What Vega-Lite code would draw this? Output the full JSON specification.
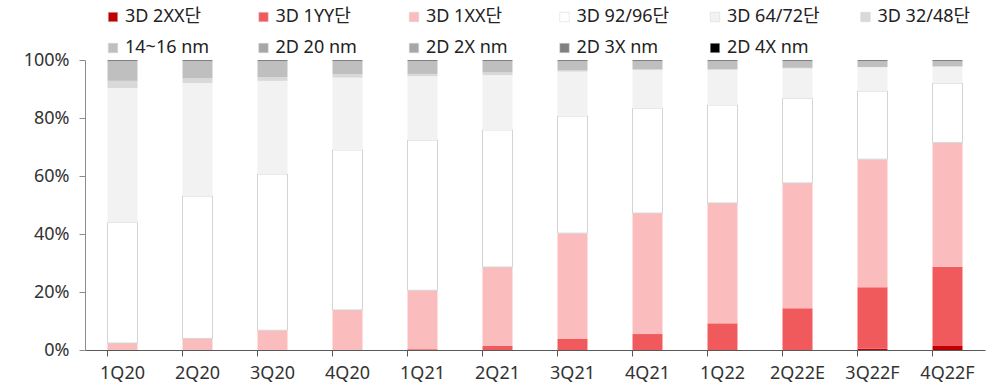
{
  "$schema": "https://vega.github.io/schema/vega-lite/v6.json",
  "autosize": "none",
  "width": 900,
  "height": 290,
  "padding": {"left": 85, "top": 60, "right": 20, "bottom": 37},
  "background": "white",
  "config": {
    "view": {"stroke": null},
    "font": "Noto Sans",
    "axis": {"labelFont": "Noto Sans", "labelFontSize": 18, "labelColor": "#333333", "grid": false, "title": null}
  },
  "data": {
    "values": [
      {"q": "1Q20", "s": "3D 1XX단", "v": 2.4},
      {"q": "1Q20", "s": "3D 92/96단", "v": 41.6},
      {"q": "1Q20", "s": "3D 64/72단", "v": 46.3},
      {"q": "1Q20", "s": "3D 32/48단", "v": 2.5},
      {"q": "1Q20", "s": "14~16 nm", "v": 6.8},
      {"q": "1Q20", "s": "2D 3X nm", "v": 0.4},

      {"q": "2Q20", "s": "3D 1XX단", "v": 4.0},
      {"q": "2Q20", "s": "3D 92/96단", "v": 49.1},
      {"q": "2Q20", "s": "3D 64/72단", "v": 38.9},
      {"q": "2Q20", "s": "3D 32/48단", "v": 1.7},
      {"q": "2Q20", "s": "14~16 nm", "v": 5.9},
      {"q": "2Q20", "s": "2D 3X nm", "v": 0.4},

      {"q": "3Q20", "s": "3D 1XX단", "v": 6.8},
      {"q": "3Q20", "s": "3D 92/96단", "v": 53.9},
      {"q": "3Q20", "s": "3D 64/72단", "v": 32.1},
      {"q": "3Q20", "s": "3D 32/48단", "v": 1.3},
      {"q": "3Q20", "s": "14~16 nm", "v": 5.5},
      {"q": "3Q20", "s": "2D 3X nm", "v": 0.4},

      {"q": "4Q20", "s": "3D 1XX단", "v": 13.8},
      {"q": "4Q20", "s": "3D 92/96단", "v": 55.2},
      {"q": "4Q20", "s": "3D 64/72단", "v": 24.9},
      {"q": "4Q20", "s": "3D 32/48단", "v": 1.2},
      {"q": "4Q20", "s": "14~16 nm", "v": 4.5},
      {"q": "4Q20", "s": "2D 3X nm", "v": 0.4},

      {"q": "1Q21", "s": "3D 1YY단", "v": 0.3},
      {"q": "1Q21", "s": "3D 1XX단", "v": 20.3},
      {"q": "1Q21", "s": "3D 92/96단", "v": 51.8},
      {"q": "1Q21", "s": "3D 64/72단", "v": 22.0},
      {"q": "1Q21", "s": "3D 32/48단", "v": 0.8},
      {"q": "1Q21", "s": "14~16 nm", "v": 4.4},
      {"q": "1Q21", "s": "2D 3X nm", "v": 0.4},

      {"q": "2Q21", "s": "3D 1YY단", "v": 1.4},
      {"q": "2Q21", "s": "3D 1XX단", "v": 27.2},
      {"q": "2Q21", "s": "3D 92/96단", "v": 47.3},
      {"q": "2Q21", "s": "3D 64/72단", "v": 18.9},
      {"q": "2Q21", "s": "3D 32/48단", "v": 0.9},
      {"q": "2Q21", "s": "14~16 nm", "v": 3.9},
      {"q": "2Q21", "s": "2D 3X nm", "v": 0.4},

      {"q": "3Q21", "s": "3D 1YY단", "v": 3.8},
      {"q": "3Q21", "s": "3D 1XX단", "v": 36.5},
      {"q": "3Q21", "s": "3D 92/96단", "v": 40.4},
      {"q": "3Q21", "s": "3D 64/72단", "v": 15.3},
      {"q": "3Q21", "s": "3D 32/48단", "v": 0.4},
      {"q": "3Q21", "s": "14~16 nm", "v": 3.2},
      {"q": "3Q21", "s": "2D 3X nm", "v": 0.4},

      {"q": "4Q21", "s": "3D 1YY단", "v": 5.5},
      {"q": "4Q21", "s": "3D 1XX단", "v": 41.7},
      {"q": "4Q21", "s": "3D 92/96단", "v": 36.2},
      {"q": "4Q21", "s": "3D 64/72단", "v": 13.1},
      {"q": "4Q21", "s": "3D 32/48단", "v": 0.3},
      {"q": "4Q21", "s": "14~16 nm", "v": 2.8},
      {"q": "4Q21", "s": "2D 3X nm", "v": 0.4},

      {"q": "1Q22", "s": "3D 1YY단", "v": 9.2},
      {"q": "1Q22", "s": "3D 1XX단", "v": 41.5},
      {"q": "1Q22", "s": "3D 92/96단", "v": 33.8},
      {"q": "1Q22", "s": "3D 64/72단", "v": 12.1},
      {"q": "1Q22", "s": "3D 32/48단", "v": 0.2},
      {"q": "1Q22", "s": "14~16 nm", "v": 2.8},
      {"q": "1Q22", "s": "2D 3X nm", "v": 0.4},

      {"q": "2Q22E", "s": "3D 1YY단", "v": 14.4},
      {"q": "2Q22E", "s": "3D 1XX단", "v": 43.2},
      {"q": "2Q22E", "s": "3D 92/96단", "v": 29.2},
      {"q": "2Q22E", "s": "3D 64/72단", "v": 10.3},
      {"q": "2Q22E", "s": "3D 32/48단", "v": 0.2},
      {"q": "2Q22E", "s": "14~16 nm", "v": 2.3},
      {"q": "2Q22E", "s": "2D 3X nm", "v": 0.4},

      {"q": "3Q22F", "s": "3D 2XX단", "v": 0.4},
      {"q": "3Q22F", "s": "3D 1YY단", "v": 21.2},
      {"q": "3Q22F", "s": "3D 1XX단", "v": 44.2},
      {"q": "3Q22F", "s": "3D 92/96단", "v": 23.5},
      {"q": "3Q22F", "s": "3D 64/72단", "v": 8.2},
      {"q": "3Q22F", "s": "3D 32/48단", "v": 0.1},
      {"q": "3Q22F", "s": "14~16 nm", "v": 2.0},
      {"q": "3Q22F", "s": "2D 3X nm", "v": 0.4},

      {"q": "4Q22F", "s": "3D 2XX단", "v": 1.4},
      {"q": "4Q22F", "s": "3D 1YY단", "v": 27.3},
      {"q": "4Q22F", "s": "3D 1XX단", "v": 42.8},
      {"q": "4Q22F", "s": "3D 92/96단", "v": 20.5},
      {"q": "4Q22F", "s": "3D 64/72단", "v": 5.7},
      {"q": "4Q22F", "s": "3D 32/48단", "v": 0.1},
      {"q": "4Q22F", "s": "14~16 nm", "v": 1.8},
      {"q": "4Q22F", "s": "2D 3X nm", "v": 0.4}
    ]
  },
  "transform": [
    {"calculate": "indexof(['3D 2XX단','3D 1YY단','3D 1XX단','3D 92/96단','3D 64/72단','3D 32/48단','14~16 nm','2D 20 nm','2D 2X nm','2D 3X nm','2D 4X nm'], datum.s)", "as": "k"}
  ],
  "mark": {"type": "bar", "stroke": "#d4d4d4"},
  "encoding": {
    "x": {
      "field": "q",
      "type": "nominal",
      "sort": null,
      "scale": {"paddingInner": 0.6, "paddingOuter": 0.3},
      "axis": {
        "labelAngle": 0,
        "bandPosition": 0,
        "domainColor": "#595959",
        "tickColor": "#595959",
        "tickSize": 6,
        "labelPadding": 8,
        "labelAlign": "center",
        "labelOffset": 0
      }
    },
    "y": {
      "field": "v",
      "type": "quantitative",
      "stack": "zero",
      "scale": {"domain": [0, 100]},
      "axis": {
        "values": [0, 20, 40, 60, 80, 100],
        "labelExpr": "datum.value + '%'",
        "domainColor": "#8c8c8c",
        "tickColor": "#8c8c8c",
        "tickSize": 6,
        "labelPadding": 10
      }
    },
    "order": {"field": "k", "type": "quantitative", "sort": "ascending"},
    "strokeWidth": {
      "condition": {"test": "datum.s === '3D 92/96단'", "value": 1},
      "value": 0
    },
    "color": {
      "field": "s",
      "type": "nominal",
      "scale": {
        "domain": ["3D 2XX단", "3D 1YY단", "3D 1XX단", "3D 92/96단", "3D 64/72단", "3D 32/48단", "14~16 nm", "2D 20 nm", "2D 2X nm", "2D 3X nm", "2D 4X nm"],
        "range": ["#c00000", "#f15a5c", "#fbbcbe", "#ffffff", "#f2f2f2", "#d9d9d9", "#bfbfbf", "#a6a6a6", "#a6a6a6", "#808080", "#000000"]
      },
      "legend": {
        "title": null,
        "orient": "none",
        "legendX": 19,
        "legendY": -52,
        "direction": "horizontal",
        "columns": 6,
        "gridAlign": "all",
        "columnPadding": 36.5,
        "rowPadding": 13,
        "symbolType": "square",
        "symbolSize": 90,
        "symbolStrokeColor": "#d4d4d4",
        "symbolStrokeWidth": 0.5,
        "symbolOffset": 0,
        "labelFont": "Noto Sans, Noto Sans CJK KR",
        "labelFontSize": 18,
        "labelColor": "#222222",
        "labelOffset": 3,
        "labelLimit": 200
      }
    }
  }
}
